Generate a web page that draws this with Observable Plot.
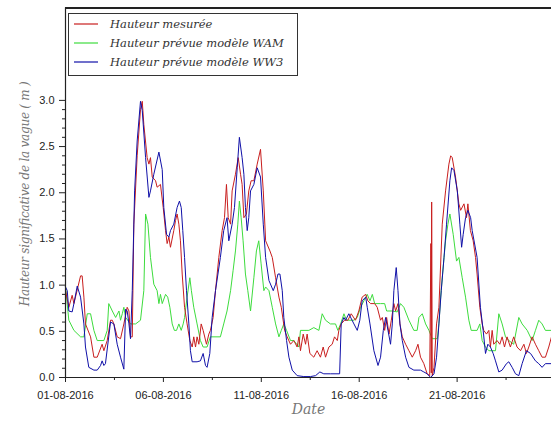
<!DOCTYPE html>
<html>
<head>
<meta charset="utf-8">
<script src="https://cdn.jsdelivr.net/npm/d3@7"></script>
<script src="https://cdn.jsdelivr.net/npm/@observablehq/plot@0.6"></script>
<style>
  html, body { margin: 0; padding: 0; background: #fff; }
</style>
</head>
<body>
<div id="chart"></div>
<script>
// ---- data (days since 01-08-2016 00:00 UTC, significant wave height in m) ----
const seriesNames = ["Hauteur mesurée", "Hauteur prévue modèle WAM", "Hauteur prévue modèle WW3"];
const seriesColors = ["#c81e1e", "#3ddc3d", "#1010a8"];

const mesDays = [0,0.17,0.34,0.43,0.77,0.85,0.94,1.02,1.28,1.45,1.62,1.87,1.96,2.13,2.30,2.39,2.47,2.64,2.81,2.98,3.15,3.24,3.32,3.41,3.49,3.66,3.83,3.92,4.00,4.17,4.26,4.34,4.43,4.60,4.68,4.85,4.99,5.11,5.19,5.28,5.36,5.53,5.62,5.70,5.79,5.87,5.96,6.08,6.21,6.35,6.47,6.55,6.64,6.72,6.81,6.93,7.03,7.20,7.32,7.40,7.54,7.66,7.83,8.00,8.12,8.22,8.31,8.43,8.51,8.68,8.82,8.94,9.02,9.11,9.24,9.36,9.48,9.62,9.79,9.96,10.10,10.22,10.44,10.56,10.73,10.90,11.02,11.19,11.32,11.49,11.66,11.83,11.92,12.00,12.14,12.26,12.34,12.48,12.68,12.85,13.02,13.16,13.28,13.45,13.62,13.74,13.88,13.96,14.08,14.25,14.42,14.59,14.81,14.98,15.15,15.33,15.44,15.58,15.79,15.92,16.09,16.18,16.30,16.40,16.52,16.64,16.77,16.86,16.98,17.08,17.20,17.37,17.54,17.71,17.88,18.00,18.13,18.30,18.47,18.60,18.66,18.68,18.70,18.73,18.82,18.95,19.07,19.24,19.41,19.58,19.67,19.75,19.92,20.09,20.18,20.35,20.48,20.55,20.68,20.82,20.94,21.02,21.16,21.28,21.36,21.50,21.62,21.70,21.79,21.87,22.04,22.18,22.30,22.42,22.55,22.72,22.89,23.06,23.24,23.41,23.54,23.66,23.83,24.00,24.17,24.34,24.51,24.68,24.82];
const mesVals = [0.94,0.76,0.89,0.80,1.10,1.10,0.87,0.58,0.44,0.22,0.22,0.36,0.29,0.40,0.62,0.62,0.58,0.44,0.42,0.58,0.76,0.72,0.44,0.44,1.66,2.40,2.90,2.99,2.74,2.38,2.31,2.38,2.17,2.13,2.06,2.09,1.84,1.59,1.45,1.52,1.41,1.59,1.70,1.77,1.66,1.48,1.12,0.76,0.58,0.40,0.33,0.44,0.33,0.44,0.36,0.58,0.51,0.36,0.47,0.51,0.65,0.94,1.30,1.59,1.73,2.09,1.73,1.66,2.02,2.20,2.38,2.20,2.09,1.73,1.77,2.02,2.13,2.13,2.31,2.47,2.02,1.48,1.37,1.30,1.08,0.87,0.76,0.51,0.44,0.36,0.40,0.33,0.44,0.29,0.47,0.36,0.47,0.26,0.22,0.29,0.22,0.33,0.22,0.33,0.36,0.44,0.40,0.51,0.58,0.62,0.62,0.69,0.62,0.72,0.87,0.90,0.83,0.80,0.80,0.76,0.62,0.65,0.51,0.65,0.47,0.62,0.80,0.72,0.80,0.58,0.44,0.36,0.29,0.22,0.29,0.36,0.22,0.15,0.04,0.02,1.45,0.05,1.90,0.02,0.11,0.58,0.76,1.66,2.02,2.31,2.40,2.38,2.17,1.88,1.81,1.88,1.73,1.88,1.59,1.48,1.30,1.12,0.76,0.58,0.51,0.47,0.51,0.33,0.51,0.36,0.40,0.36,0.44,0.33,0.44,0.33,0.44,0.33,0.29,0.36,0.26,0.33,0.44,0.36,0.29,0.22,0.22,0.33,0.44];

const wamDays = [0,0.17,0.43,0.77,0.94,1.11,1.28,1.45,1.62,1.96,2.13,2.21,2.39,2.56,2.73,2.81,2.90,2.98,3.07,3.32,3.58,3.83,4.00,4.09,4.21,4.34,4.51,4.68,4.77,4.85,4.94,5.11,5.22,5.33,5.45,5.56,5.67,5.79,5.91,6.01,6.08,6.21,6.35,6.43,6.55,6.72,6.89,7.03,7.23,7.40,7.91,8.08,8.25,8.43,8.56,8.68,8.80,8.88,8.97,9.07,9.19,9.31,9.45,9.62,9.75,9.87,9.99,10.13,10.22,10.39,10.56,10.73,10.90,11.02,11.15,11.29,11.49,11.66,11.92,12.00,12.43,12.68,12.94,13.11,13.28,13.53,13.79,13.91,14.05,14.22,14.35,14.73,14.90,15.07,15.24,15.41,15.55,15.67,15.79,16.09,16.30,16.40,16.69,16.94,17.11,17.28,17.54,17.79,17.96,18.05,18.22,18.39,18.56,18.73,18.99,19.07,19.16,19.24,19.41,19.53,19.63,19.80,19.97,20.09,20.26,20.43,20.60,20.72,21.02,21.16,21.28,21.45,21.62,21.96,22.13,22.30,22.47,22.64,22.89,23.15,23.32,23.58,23.83,24.00,24.17,24.34,24.51,24.82];
const wamVals = [0.98,0.62,0.51,0.44,0.44,0.69,0.69,0.51,0.40,0.40,0.51,0.80,0.72,0.65,0.72,0.62,0.69,0.76,0.65,0.58,0.58,0.62,0.94,1.77,1.66,1.30,1.01,0.94,0.80,0.90,0.80,0.90,0.87,0.76,0.58,0.51,0.51,0.58,0.51,0.58,0.65,0.87,1.08,0.94,0.76,0.58,0.40,0.33,0.33,0.44,0.44,0.58,0.72,0.94,1.16,1.37,1.66,1.91,1.73,1.48,1.12,0.94,0.72,1.08,1.37,1.48,1.23,0.94,0.98,0.94,0.76,0.58,0.44,0.51,0.58,0.51,0.40,0.40,0.33,0.51,0.51,0.54,0.51,0.69,0.62,0.58,0.58,0.51,0.58,0.69,0.62,0.62,0.65,0.76,0.83,0.90,0.83,0.90,0.80,0.80,0.80,0.72,0.72,0.71,0.80,0.76,0.62,0.51,0.51,0.65,0.69,0.58,0.51,0.42,0.42,0.58,0.87,1.08,1.48,1.66,1.77,1.55,1.26,1.30,1.08,0.87,0.62,0.51,0.51,0.58,0.40,0.33,0.29,0.29,0.69,0.58,0.44,0.40,0.36,0.65,0.58,0.51,0.40,0.51,0.62,0.58,0.51,0.51];

const ww3Days = [0,0.09,0.17,0.34,0.43,0.60,0.77,0.94,1.02,1.19,1.45,1.62,1.79,1.87,1.96,2.04,2.30,2.47,2.64,2.81,2.98,3.07,3.15,3.24,3.32,3.41,3.53,3.66,3.83,3.92,4.09,4.26,4.34,4.51,4.77,4.94,5.02,5.16,5.28,5.36,5.53,5.70,5.82,5.91,5.99,6.08,6.18,6.30,6.38,6.47,6.72,6.89,7.03,7.15,7.23,7.37,7.49,7.66,7.91,8.08,8.25,8.34,8.51,8.63,8.77,8.88,9.02,9.11,9.19,9.28,9.36,9.45,9.62,9.79,9.96,10.10,10.22,10.39,10.61,10.73,10.85,10.95,11.07,11.15,11.29,11.41,11.58,11.83,12.17,12.51,12.77,12.99,13.19,13.53,14.00,14.08,14.22,14.30,14.47,14.73,14.90,15.03,15.15,15.33,15.41,15.55,15.75,15.96,16.09,16.23,16.35,16.47,16.60,16.69,16.77,16.89,16.98,17.08,17.20,17.37,17.54,17.79,18.13,18.30,18.47,18.65,18.82,18.95,19.07,19.19,19.33,19.46,19.63,19.72,19.84,20.01,20.14,20.23,20.31,20.43,20.55,20.69,20.77,21.02,21.19,21.33,21.45,21.57,21.70,21.84,21.96,22.13,22.30,22.52,22.64,22.81,22.98,23.15,23.32,23.54,23.75,24.00,24.17,24.34,24.51,24.82];
const ww3Vals = [0.98,0.94,0.72,0.71,0.80,0.99,0.87,0.58,0.33,0.11,0.08,0.08,0.13,0.18,0.13,0.15,0.60,0.58,0.36,0.22,0.09,0.74,0.72,0.58,0.42,0.94,2.02,2.56,2.99,2.89,2.38,1.95,2.02,2.20,2.44,2.25,1.84,1.55,1.52,1.59,1.66,1.84,1.91,1.84,1.59,1.30,0.94,0.58,0.29,0.17,0.17,0.18,0.26,0.13,0.11,0.26,0.65,0.94,1.30,1.59,1.73,1.48,1.66,1.84,2.27,2.60,2.38,2.20,1.84,1.59,1.73,2.02,2.09,2.27,2.17,1.66,1.30,1.05,0.94,1.01,1.12,1.12,0.94,0.65,0.40,0.22,0.08,0.02,0.01,0.01,0.02,0.06,0.04,0.04,0.04,0.58,0.65,0.62,0.69,0.58,0.51,0.62,0.83,0.87,0.76,0.58,0.29,0.13,0.22,0.51,0.65,0.51,0.36,0.58,0.94,1.19,0.94,0.58,0.40,0.22,0.11,0.08,0.08,0.06,0.04,0.00,0.04,0.22,0.58,0.94,1.30,1.66,2.13,2.27,2.24,2.02,1.66,1.41,1.55,1.73,1.81,1.73,1.59,1.30,0.76,0.51,0.26,0.36,0.33,0.26,0.18,0.06,0.08,0.15,0.17,0.11,0.04,0.02,0.15,0.29,0.26,0.18,0.15,0.11,0.15,0.15];

// ---- axis ticks ----
const xMajorDays = [0, 5, 10, 15, 20];
const xMinorDays = [2.5, 7.5, 12.5, 17.5, 22.5];
const xEndDay = 24.82;
const yMajor = [0, 0.5, 1.0, 1.5, 2.0, 2.5, 3.0];
const yMinor = [0.1,0.2,0.3,0.4,0.6,0.7,0.8,0.9,1.1,1.2,1.3,1.4,1.6,1.7,1.8,1.9,2.1,2.2,2.3,2.4,2.6,2.7,2.8,2.9];
const yTop = 4;
const xLabel = "Date";
const yLabel = "Hauteur significative de la vague ( m )";

// ---- build ----
const t0 = Date.UTC(2016, 7, 1);
const toDate = d => new Date(t0 + d * 86400000);
const mk = (days, vals) => days.map((d, i) => ({date: toDate(d), v: vals[i]}));
const mes = mk(mesDays, mesVals);
const wam = mk(wamDays, wamVals);
const ww3 = mk(ww3Days, ww3Vals);

const serifFont = "'DejaVu Serif', 'Liberation Serif', serif";

const chart = Plot.plot({
  width: 551,
  height: 423,
  marginLeft: 65,
  marginRight: 0,
  marginTop: 7.5,
  marginBottom: 46,
  x: {type: "utc", domain: [toDate(0), toDate(xEndDay)]},
  y: {domain: [0, yTop]},
  style: {fontFamily: "'Liberation Sans', Arial, sans-serif", fontSize: "11px", color: "#222", background: "#fff", overflow: "visible"},
  marks: [
    Plot.line(wam, {x: "date", y: "v", stroke: seriesColors[1], strokeWidth: 1}),
    Plot.line(mes, {x: "date", y: "v", stroke: seriesColors[0], strokeWidth: 1}),
    Plot.line(ww3, {x: "date", y: "v", stroke: seriesColors[2], strokeWidth: 1}),
    Plot.ruleX([toDate(0)], {stroke: "#222", strokeWidth: 1.2}),
    Plot.ruleY([0], {stroke: "#222", strokeWidth: 1.2}),
    Plot.ruleY([yTop], {stroke: "#222", strokeWidth: 1.8}),
    Plot.axisY(yMajor, {tickSize: 6, tickPadding: 5, tickFormat: d3.format(".1f"), label: null, stroke: "#222"}),
    Plot.axisY(yMinor, {tickSize: 3, tickFormat: () => "", label: null, stroke: "#222"}),
    Plot.axisX(xMajorDays.map(toDate), {tickSize: 5, tickPadding: 9, tickFormat: d3.utcFormat("%d-%m-%Y"), label: null, stroke: "#222"}),
    Plot.axisX(xMinorDays.map(toDate), {tickSize: 3, tickFormat: () => "", label: null, stroke: "#222"}),
    Plot.text([xLabel], {frameAnchor: "bottom", dy: 36, text: d => d, textAnchor: "middle", fontFamily: serifFont, fontStyle: "italic", fontSize: 14, fill: "#777"}),
    Plot.text([yLabel], {frameAnchor: "left", dx: -40, dy: 1, rotate: -90, text: d => d, textAnchor: "middle", fontFamily: serifFont, fontStyle: "italic", fontSize: 12, fill: "#777"})
  ]
});

// widen the rotated y label to the reference's span
const svg = d3.select(chart);
svg.selectAll("text").filter(function() { return this.textContent === yLabel; })
  .attr("textLength", 225).attr("lengthAdjust", "spacing");

// legend box inside the plot (top-left)
const lg = svg.append("g").attr("text-anchor", "start");
lg.append("rect").attr("x", 68.5).attr("y", 13.5).attr("width", 229).attr("height", 62)
  .attr("fill", "#fff").attr("stroke", "#333").attr("stroke-width", 1);
const rowsY = [24, 43, 62];
seriesNames.forEach((name, i) => {
  lg.append("line").attr("x1", 74).attr("x2", 98).attr("y1", rowsY[i]).attr("y2", rowsY[i])
    .attr("stroke", seriesColors[i]).attr("stroke-width", 1.2);
  lg.append("text").attr("x", 110).attr("y", rowsY[i]).attr("dy", "0.35em")
    .attr("text-anchor", "start")
    .attr("font-family", serifFont).attr("font-style", "italic").attr("font-size", 11.5)
    .attr("fill", "#333").text(name);
});

document.getElementById("chart").appendChild(chart);
</script>
</body>
</html>
